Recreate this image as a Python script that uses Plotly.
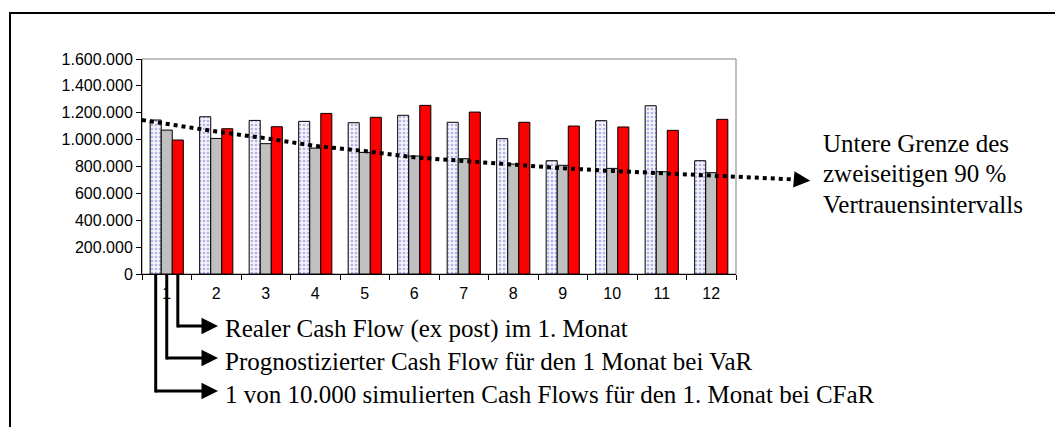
import plotly.graph_objects as go

# --- data -----------------------------------------------------------------
months = [str(m) for m in range(1, 13)]

cfar_sim = [1146000, 1170000, 1143000, 1136000, 1126000, 1181000,
            1129000, 1007000, 843000, 1141000, 1252000, 843000]
var_forecast = [1071000, 1009000, 970000, 937000, 905000, 878000,
                858000, 818000, 809000, 786000, 761000, 754000]
real_cf = [997000, 1081000, 1096000, 1195000, 1166000, 1255000,
           1205000, 1129000, 1101000, 1094000, 1069000, 1151000]

# lower bound of the two-sided 90 % confidence interval (runs past the plot)
bound_x = [0.5, 1, 2, 3, 4, 5, 6, 7, 8, 9, 10, 11, 12, 12.5, 13.7]
bound_y = [1146000, 1116000, 1060000, 1010000, 953000, 915000, 868000,
           841000, 811000, 787000, 767000, 749000, 732000, 724000, 703000]

callouts = [
    "Realer Cash Flow (ex post) im 1. Monat",
    "Prognostizierter Cash Flow für den 1 Monat bei VaR",
    "1 von 10.000 simulierten Cash Flows für den 1. Monat bei CFaR",
]
bound_label = ["Untere Grenze des", "zweiseitigen 90 %", "Vertrauensintervalls"]

# --- layout geometry (pixels) ---------------------------------------------
W, H = 1055, 427
L, T, B = 142, 59, 274      # plot area left / top / bottom
PLOT_R = 736                # right edge of bar plot
PAPER_R = 820               # paper extends further for the dotted line
pw = PAPER_R - L
ph = B - T
step = (PLOT_R - L) / 12
bargap = 0.33
bw = (1 - bargap) / 3


def px(x):
    return (x - L) / pw


def py(y):
    return (B - y) / ph


serif = "Liberation Serif, Times New Roman, serif"
sans = "Liberation Sans, Arial, sans-serif"

fig = go.Figure()

fig.add_trace(go.Bar(
    x=months, y=cfar_sim, name="CFaR",
    marker=dict(color="white", line=dict(color="black", width=1),
                pattern=dict(shape=".", fgcolor="#7070d0", bgcolor="#f4f4fc",
                             size=4, solidity=0.35, fillmode="overlay")),
))
fig.add_trace(go.Bar(
    x=months, y=var_forecast, name="VaR",
    marker=dict(color="#c0c0c0", line=dict(color="black", width=1)),
))
fig.add_trace(go.Bar(
    x=months, y=real_cf, name="Real",
    marker=dict(color="#ff0000", line=dict(color="black", width=1)),
))

fig.add_trace(go.Scatter(
    x=bound_x, y=bound_y, xaxis="x2", yaxis="y2", mode="lines",
    line=dict(color="black", width=4, dash="4px,4px"),
    hoverinfo="skip",
))

shapes = [
    # grey plot area border
    dict(type="rect", xref="paper", yref="paper", x0=0, x1=px(PLOT_R), y0=0, y1=1,
         line=dict(color="#808080", width=1), layer="below"),
    # outer frame (only top and left edges are inside the picture)
    dict(type="path", xref="paper", yref="paper",
         path=f"M {px(10)} {py(460)} L {px(10)} {py(13)} L {px(1080)} {py(13)}",
         line=dict(color="black", width=2)),
]

annotations = []
levels = [326, 358, 391]
tip_x = (218 - L) / step - 0.5
for i, (label, lvl) in enumerate(zip(callouts, levels)):
    xc = 0 + (1 - i) * bw      # bar centre in month 1 (red, grey, dotted)
    shapes.append(dict(type="line", xref="x", yref="paper", x0=xc, x1=xc,
                       y0=py(B + 1), y1=py(lvl) - 0.007,
                       line=dict(color="black", width=3)))
    annotations.append(dict(
        xref="x", yref="paper", axref="x", ayref="pixel",
        x=tip_x, y=py(lvl), ax=xc - 0.03, ay=0,
        showarrow=True, arrowhead=2, arrowsize=1.1, arrowwidth=3,
        arrowcolor="black", standoff=0, text=""))
    annotations.append(dict(
        xref="paper", yref="paper", x=px(223), y=py(lvl + 3),
        xanchor="left", yanchor="middle", showarrow=False, text=label,
        font=dict(family=serif, size=25, color="black")))

# arrow head at the end of the dotted line
annotations.append(dict(
    xref="x2", yref="y2", axref="x2", ayref="y2",
    x=14.0, y=694000, ax=13.7, ay=703000,
    showarrow=True, arrowhead=2, arrowsize=1.1, arrowwidth=3,
    arrowcolor="black", standoff=0, text=""))
for line, ly in zip(bound_label, [143, 173, 204]):
    annotations.append(dict(
        xref="paper", yref="paper", x=px(821), y=py(ly),
        xanchor="left", yanchor="middle", showarrow=False, text=line,
        font=dict(family=serif, size=25, color="black")))

fig.update_layout(
    width=W, height=H,
    margin=dict(l=L, r=W - PAPER_R, t=T, b=H - B, pad=0),
    paper_bgcolor="white", plot_bgcolor="rgba(0,0,0,0)",
    barmode="group", bargap=bargap, bargroupgap=0,
    showlegend=False,
    separators=",.",
    font=dict(family=sans, size=16, color="black"),
    xaxis=dict(domain=[0, (PLOT_R - L) / pw], type="category",
               tickson="boundaries", ticks="outside", ticklen=5,
               ticklabelstandoff=5,
               tickcolor="black", showline=True, linecolor="black",
               linewidth=1, showgrid=False, zeroline=False,
               tickfont=dict(family=sans, size=16)),
    yaxis=dict(range=[0, 1600000], dtick=200000, tickformat=",d",
               ticks="outside", ticklen=5, tickcolor="black",
               showline=True, linecolor="black", linewidth=1,
               showgrid=False, zeroline=False,
               tickfont=dict(family=sans, size=16)),
    xaxis2=dict(domain=[0, 1], range=[0.5, 0.5 + pw / step], anchor="y2",
                visible=False),
    yaxis2=dict(domain=[0, 1], range=[0, 1600000], anchor="x2",
                visible=False),
    shapes=shapes,
    annotations=annotations,
)

fig.write_html("out.html", config={"displayModeBar": False},
               post_script="document.body.style.margin='0';")
